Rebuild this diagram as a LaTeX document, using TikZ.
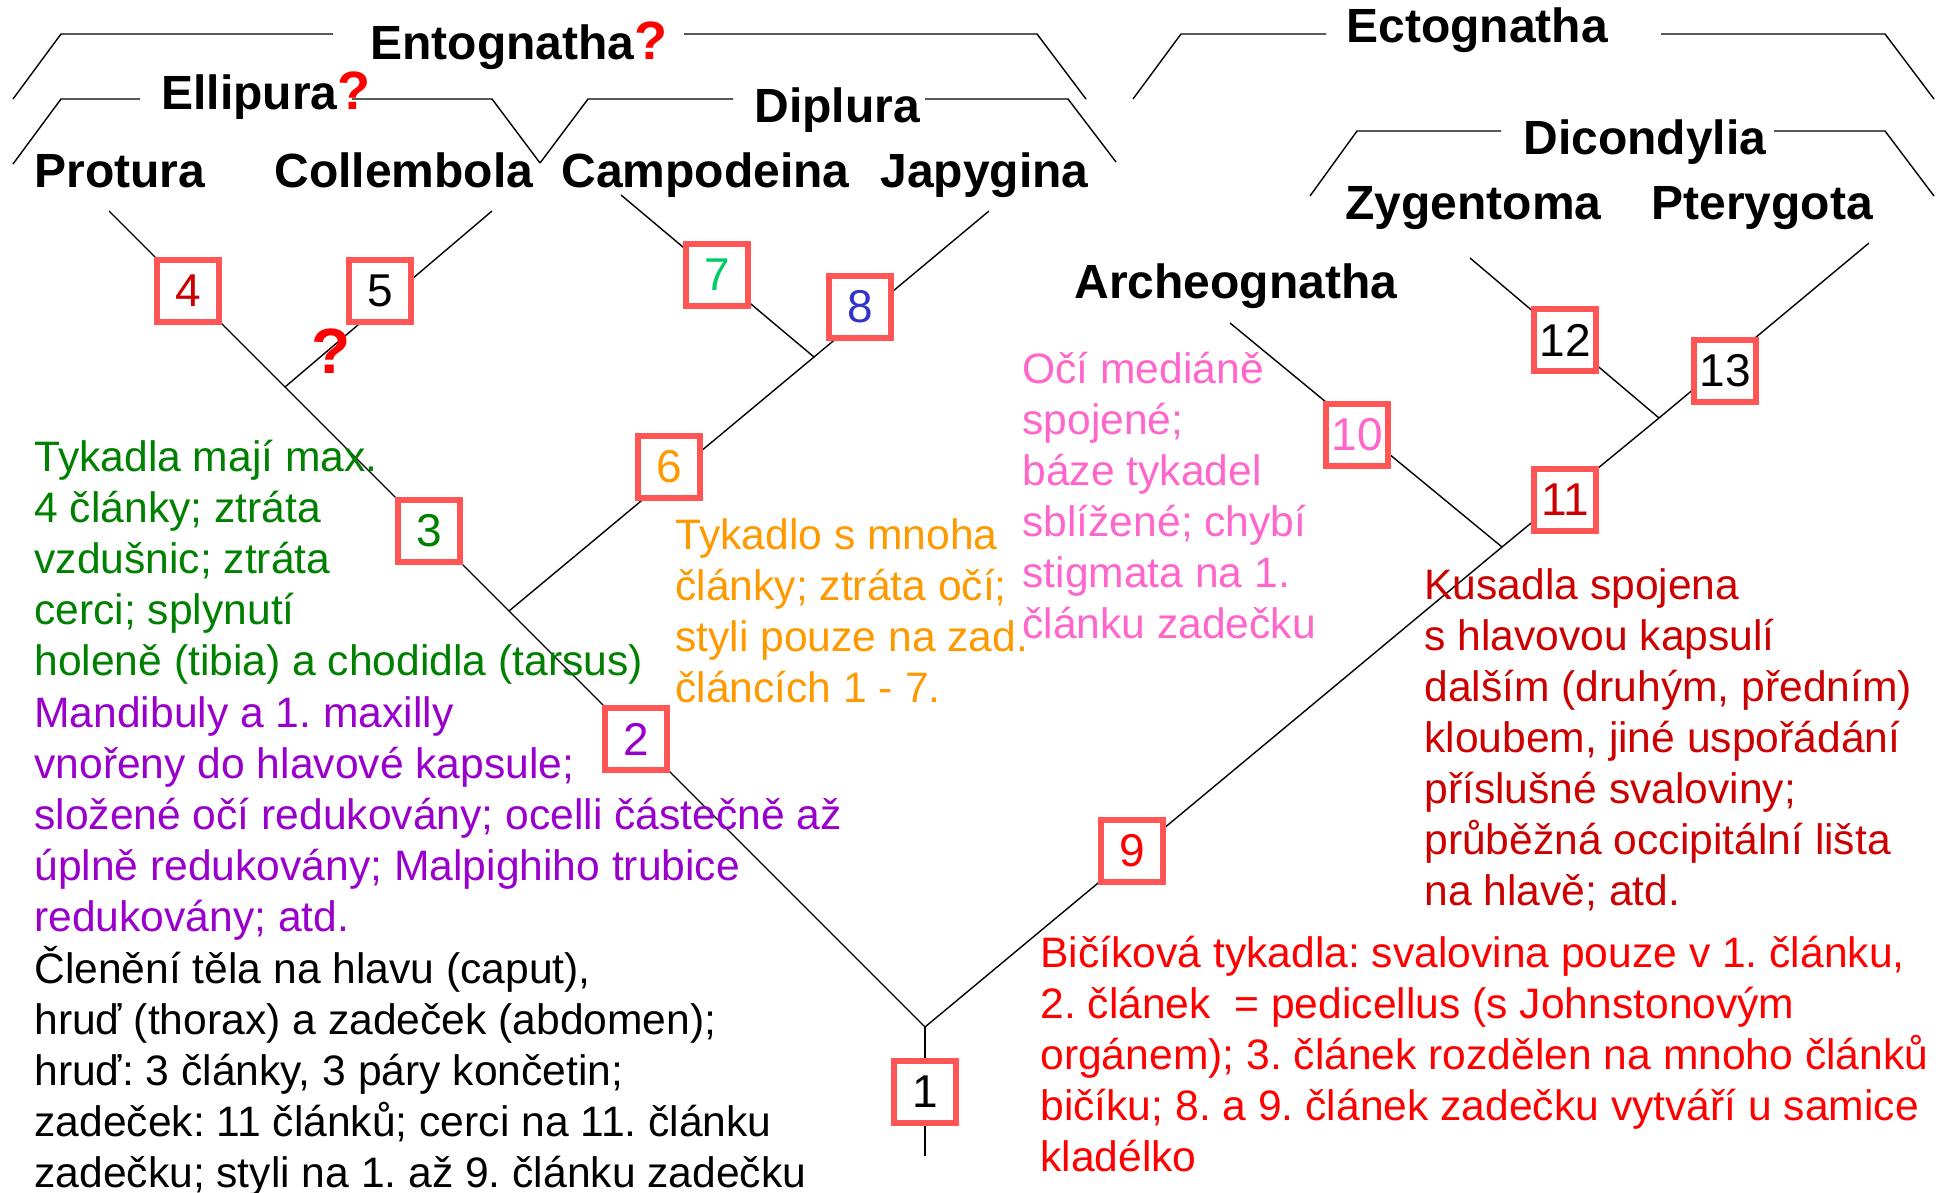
\documentclass[tikz,border=0pt]{standalone}
\usepackage{fontspec}
\setmainfont{Liberation Sans}
\usepackage{xcolor}
\usetikzlibrary{positioning}
\frenchspacing

\definecolor{boxred}{RGB}{255,85,85}
\definecolor{qred}{RGB}{255,0,0}
\definecolor{tgreen}{RGB}{0,128,0}
\definecolor{tviolet}{RGB}{153,0,204}
\definecolor{torange}{RGB}{255,153,0}
\definecolor{tpink}{RGB}{255,102,204}
\definecolor{tdred}{RGB}{204,0,0}
\definecolor{tred}{RGB}{255,0,0}
\definecolor{cgreen}{RGB}{0,204,102}
\definecolor{cblue}{RGB}{51,51,204}

\begin{document}
\begin{tikzpicture}[
  x=0.5pt, y=-0.5pt,
  br/.style={line width=0.7pt},
  num/.style={draw=boxred, line width=2.8pt, fill=white, minimum size=31pt, inner sep=0pt, font=\fontsize{23}{23}\selectfont},
  taxon/.style={anchor=base west, inner sep=0pt, font=\fontsize{24}{28}\selectfont\bfseries},
  note/.style={anchor=base west, inner sep=0pt, align=left, font=\fontsize{21.3}{25.5}\selectfont},
  qm/.style={text=qred, font=\fontsize{27}{27}\selectfont\bfseries}
]
  \useasboundingbox (0,0) rectangle (1945,1193);

  % Uzly stromu
  \coordinate (root) at (925,1027);
  \coordinate (rootend) at (925,1156);
  \coordinate (jdip) at (509,611);
  \coordinate (jell) at (285,387);
  \coordinate (endpro) at (109,211);
  \coordinate (endcol) at (492,211);
  \coordinate (jcam) at (814,357);
  \coordinate (endcam) at (621,195);
  \coordinate (endjap) at (989,211);
  \coordinate (jarch) at (1502,547);
  \coordinate (jzyg) at (1659,418);
  \coordinate (endarch) at (1230,323);
  \coordinate (endzyg) at (1470,258);
  \coordinate (endpte) at (1869,243);

  % Vetve
  \draw[br] (rootend) -- (root);
  \draw[br] (root) -- (jdip) -- (jell) -- (endpro);
  \draw[br] (jell) -- (endcol);
  \draw[br] (jdip) -- (jcam) -- (endcam);
  \draw[br] (jcam) -- (endjap);
  \draw[br] (root) -- (jarch) -- (jzyg) -- (endpte);
  \draw[br] (jarch) -- (endarch);
  \draw[br] (jzyg) -- (endzyg);

  % Zavorky skupin
  \coordinate (entA) at (13,99);   \coordinate (entB) at (61,34);   \coordinate (entC) at (333,34);
  \coordinate (entD) at (684,34);  \coordinate (entE) at (1037,34); \coordinate (entF) at (1086,99);
  \coordinate (ellA) at (13,164);  \coordinate (ellB) at (61,99);   \coordinate (ellC) at (140,99);
  \coordinate (ellD) at (352,99);  \coordinate (ellE) at (492,99);  \coordinate (ellF) at (540,163);
  \coordinate (dipA) at (540,163); \coordinate (dipB) at (588,99);  \coordinate (dipC) at (733,99);
  \coordinate (dipD) at (925,99);  \coordinate (dipE) at (1068,99); \coordinate (dipF) at (1116,162);
  \coordinate (ectA) at (1133,99); \coordinate (ectB) at (1181,34); \coordinate (ectC) at (1326,34);
  \coordinate (ectD) at (1661,34); \coordinate (ectE) at (1885,34); \coordinate (ectF) at (1934,99);
  \coordinate (dicA) at (1310,196);\coordinate (dicB) at (1357,131);\coordinate (dicC) at (1501,131);
  \coordinate (dicD) at (1774,131);\coordinate (dicE) at (1885,131);\coordinate (dicF) at (1934,196);

  \draw[br] (entA) -- (entB) -- (entC);  \draw[br] (entD) -- (entE) -- (entF);
  \draw[br] (ellA) -- (ellB) -- (ellC);  \draw[br] (ellD) -- (ellE) -- (ellF);
  \draw[br] (dipA) -- (dipB) -- (dipC);  \draw[br] (dipD) -- (dipE) -- (dipF);
  \draw[br] (ectA) -- (ectB) -- (ectC);  \draw[br] (ectD) -- (ectE) -- (ectF);
  \draw[br] (dicA) -- (dicB) -- (dicC);  \draw[br] (dicD) -- (dicE) -- (dicF);

  % Nazvy skupin
  \node[taxon] (ento) at (370,60) {Entognatha{\color{qred}\fontsize{27}{27}\selectfont ?}};
  \node[taxon] (elli) at (161,110) {Ellipura{\color{qred}\fontsize{27}{27}\selectfont ?}};
  \node[taxon] (dipl) at (754,123) {Diplura};
  \node[taxon] (ecto) at (1346,43) {Ectognatha};
  \node[taxon] (dico) at (1523,155) {Dicondylia};

  % Listy stromu
  \node[taxon] (prot) at (34,187) {Protura};
  \node[taxon] (coll) at (274,187) {Collembola};
  \node[taxon] (camp) at (561,187) {Campodeina};
  \node[taxon] (japy) at (880,187) {Japygina};
  \node[taxon] (zyge) at (1345,220) {Zygentoma};
  \node[taxon] (pter) at (1651,220) {Pterygota};
  \node[taxon] (arch) at (1074,298) {Archeognatha};

  % Ocislovane znaky
  \node[num] (n1) at (925,1092) {1};
  \node[num, text=tviolet] (n2) at (636,739) {2};
  \node[num, text=tgreen] (n3) at (429,531) {3};
  \node[num, text=tdred] (n4) at (188,291) {4};
  \node[num] (n5) at (380,291) {5};
  \node[num, text=torange] (n6) at (669,467) {6};
  \node[num, text=cgreen] (n7) at (717,275) {7};
  \node[num, text=cblue] (n8) at (860,307) {8};
  \node[num, text=tred] (n9) at (1132,851) {9};
  \node[num, text=tpink] (n10) at (1357,435) {10};
  \node[num, text=tdred] (n11) at (1565,500) {11};
  \node[num] (n12) at (1565,340) {12};
  \node[num] (n13) at (1725,371) {13};

  \node[qm, font=\fontsize{32}{32}\selectfont\bfseries] (qcol) at (331,351) {?};

  % Popisy znaku (kotva na posledni radce)
  \node[note, text=tgreen] (tgr) at (34,675)
    {Tykadla mají max.\\4 články; ztráta\\vzdušnic; ztráta\\cerci; splynutí\\holeně (tibia) a chodidla (tarsus)};
  \node[note, text=tviolet] (tvi) at (34,931)
    {Mandibuly a 1. maxilly\\vnořeny do hlavové kapsule;\\složené očí redukovány; ocelli částečně až\\úplně redukovány; Malpighiho trubice\\redukovány; atd.};
  \node[note] (tbl) at (34,1187)
    {Členění těla na hlavu (caput),\\hruď (thorax) a zadeček (abdomen);\\hruď: 3 články, 3 páry končetin;\\zadeček: 11 článků; cerci na 11. článku\\zadečku; styli na 1. až 9. článku zadečku};
  \node[note, text=torange] (tor) at (675,702)
    {Tykadlo s mnoha\\články; ztráta očí;\\styli pouze na zad.\\článcích 1 - 7.};
  \node[note, text=tpink] (tpi) at (1022,638)
    {Očí mediáně\\spojené;\\báze tykadel\\sblížené; chybí\\stigmata na 1.\\článku zadečku};
  \node[note, text=tdred] (tdr) at (1424,905)
    {Kusadla spojena\\s hlavovou kapsulí\\dalším (druhým, předním)\\kloubem, jiné uspořádání\\příslušné svaloviny;\\průběžná occipitální lišta\\na hlavě; atd.};
  \node[note, text=tred] (tre) at (1040,1171)
    {Bičíková tykadla: svalovina pouze v 1. článku,\\2. článek~ = pedicellus (s Johnstonovým\\orgánem); 3. článek rozdělen na mnoho článků\\bičíku; 8. a 9. článek zadečku vytváří u samice\\kladélko};
\end{tikzpicture}
\end{document}
